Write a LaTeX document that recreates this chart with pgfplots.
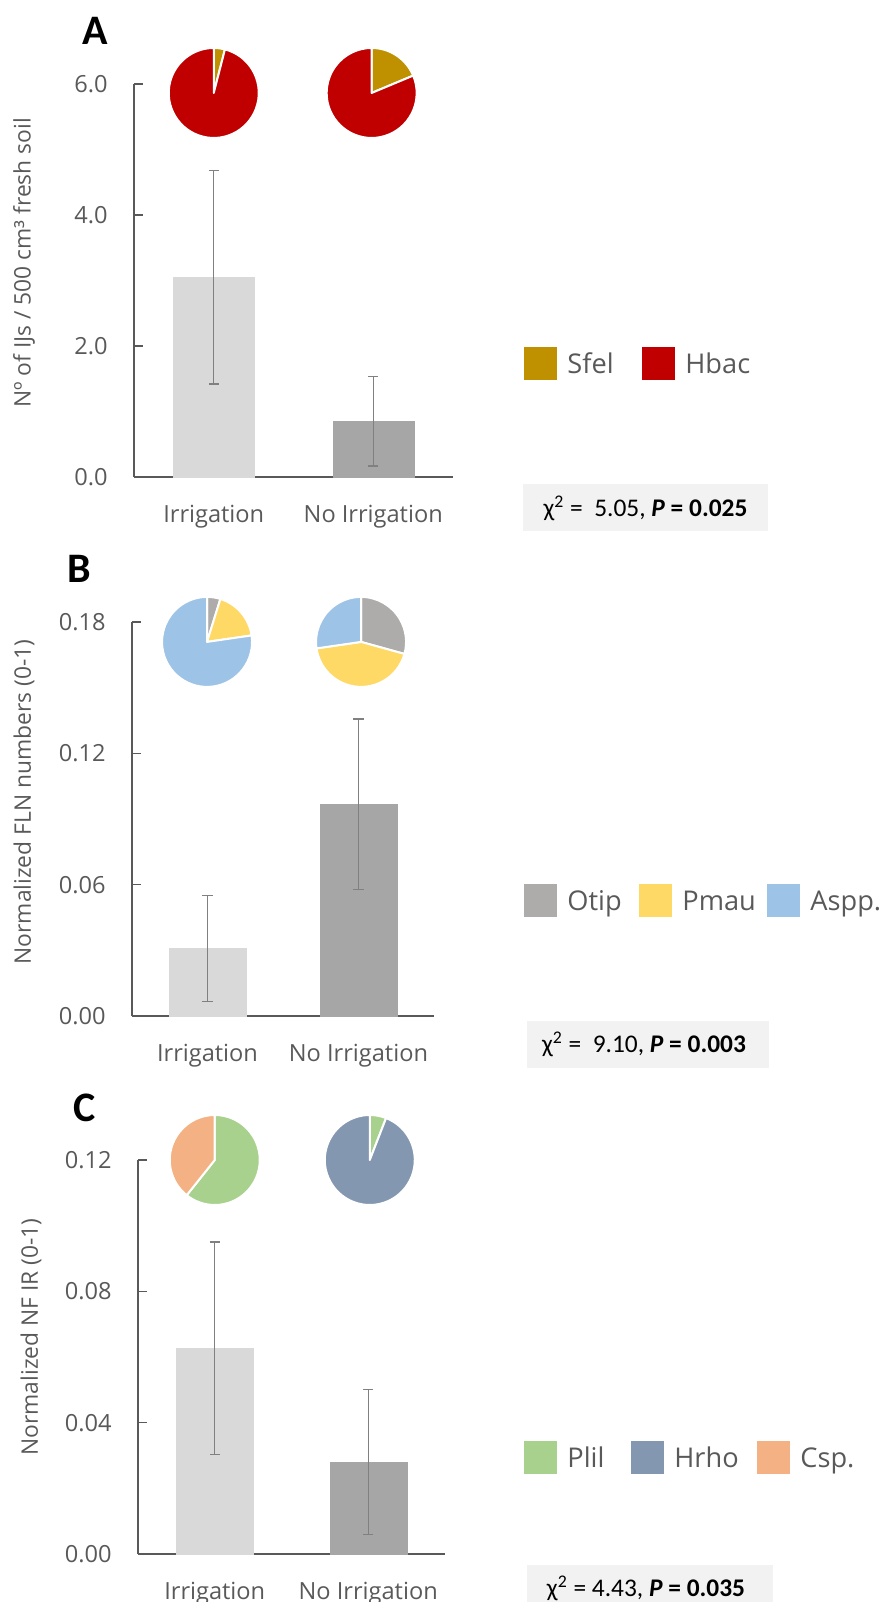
\documentclass[border=0pt]{standalone}
\usepackage{fontspec}
\setmainfont{Open Sans}
\newfontfamily\carlito{Carlito}
\usepackage{pgfplots}
\pgfplotsset{compat=1.18}

\definecolor{txtgray}{HTML}{595959}
\definecolor{axgray}{HTML}{595959}
\definecolor{errgray}{HTML}{808080}
\definecolor{barlight}{HTML}{D9D9D9}
\definecolor{bardark}{HTML}{A6A6A6}
\definecolor{sfel}{HTML}{BF9000}
\definecolor{hbac}{HTML}{C00000}
\definecolor{otip}{HTML}{AEABAB}
\definecolor{pmau}{HTML}{FFD966}
\definecolor{aspp}{HTML}{9DC3E6}
\definecolor{plil}{HTML}{A9D18E}
\definecolor{hrho}{HTML}{8497B0}
\definecolor{csp}{HTML}{F4B183}
\definecolor{boxgray}{HTML}{F2F2F2}

\pgfplotsset{
  panel/.style={
    scale only axis, clip=false,
    anchor=south west,
    xmin=0.5, xmax=2.5, ymin=0,
    axis x line*=bottom, axis y line*=left,
    axis line style={draw=axgray, line width=0.7pt, -},
    xtick={1,2}, xticklabels={Irrigation, No Irrigation},
    x tick style={draw=none},
    y tick style={draw=axgray, line width=0.7pt},
    tick align=inside, major tick length=4.5pt,
    tick label style={font=\fontsize{11.8}{14}\selectfont, text=txtgray},
    xticklabel style={anchor=north, inner sep=0pt, yshift=-14pt},
    yticklabel style={anchor=east, inner sep=0pt, xshift=-13pt},
    /pgf/number format/fixed, /pgf/number format/fixed zerofill,
    /pgf/number format/assume math mode=true,
  },
  mybar/.style n args={2}{ybar, bar width=#1, bar shift=0pt, fill=#2, draw=#2, line width=0.1pt,
    error bars/y dir=both, error bars/y explicit,
    error bars/error mark=|,
    error bars/error bar style={draw=errgray, line width=0.65pt, solid},
    error bars/error mark options={draw=errgray, line width=0.65pt, mark size=2.6pt, solid}},
}

% pie slice: x, y (axis units), start fraction, end fraction, colour
\newcommand{\slice}[5]{\fill[#5, draw=white, line width=1pt, line join=round]
  (axis cs:#1,#2) -- ++({90-360*#3}:22.5pt)
  arc[start angle={90-360*#3}, end angle={90-360*#4}, radius=22.5pt] -- cycle;}

\newcommand{\legsq}[4]{% left x (pt), bottom y (pt), colour, label
  \fill[#3] (#1,#2) rectangle ++(16.5pt,16.5pt);
  \node[anchor=base west, inner sep=0pt, text=txtgray, font=\fontsize{13.6}{16}\selectfont]
    at ({#1+21.5pt},{#2+3.4pt}) {#4};}

\begin{document}
\begin{tikzpicture}
\useasboundingbox (0,0) rectangle (439.5pt,801pt);

% ---------------- Panel A ----------------
\begin{axis}[panel, at={(67pt,562.5pt)}, width=159.5pt, height=196.5pt,
  ymax=6, ytick={0,2,4,6}, yticklabel style={/pgf/number format/precision=1}]
\addplot[mybar={40.5pt}{barlight}] coordinates {(1,3.05) +- (0,1.63)};
\addplot[mybar={40.5pt}{bardark}] coordinates {(2,0.85) +- (0,0.68)};
\slice{1}{5.863}{0}{0.04}{sfel}
\slice{1}{5.863}{0.04}{1}{hbac}
\slice{1.99}{5.863}{0}{0.187}{sfel}
\slice{1.99}{5.863}{0.187}{1}{hbac}
\end{axis}
\node[rotate=90, text=txtgray, font=\fontsize{11.4}{14}\selectfont] at (12pt,669.5pt) {Nº of IJs / 500 cm³ fresh soil};
\node[anchor=base, font=\carlito\bfseries\fontsize{21}{24}\selectfont] at (47.75pt,778.5pt) {A};
\legsq{262pt}{611pt}{sfel}{Sfel}
\legsq{321pt}{611pt}{hbac}{Hbac}
\fill[boxgray] (261.5pt,535.5pt) rectangle (384pt,559pt);
\node[anchor=base, inner sep=0pt, font=\carlito\fontsize{12.7}{15}\selectfont] at (322.75pt,542.65pt)
  {χ\textsuperscript{2} = ~5.05, \textbf{\textit{P} = 0.025}};

% ---------------- Panel B ----------------
\begin{axis}[panel, at={(66pt,293pt)}, width=151pt, height=197pt,
  ymax=0.18, ytick={0,0.06,0.12,0.18}, yticklabel style={/pgf/number format/precision=2}]
\addplot[mybar={38.5pt}{barlight}] coordinates {(1,0.0308) +- (0,0.0243)};
\addplot[mybar={38.5pt}{bardark}] coordinates {(2,0.0967) +- (0,0.0390)};
\slice{0.997}{0.1709}{0}{0.048}{otip}
\slice{0.997}{0.1709}{0.048}{0.227}{pmau}
\slice{0.997}{0.1709}{0.227}{1}{aspp}
\slice{2.017}{0.1709}{0}{0.293}{otip}
\slice{2.017}{0.1709}{0.293}{0.727}{pmau}
\slice{2.017}{0.1709}{0.727}{1}{aspp}
\end{axis}
\node[rotate=90, text=txtgray, font=\fontsize{11.4}{14}\selectfont] at (12pt,400pt) {Normalized FLN numbers (0-1)};
\node[anchor=base, font=\carlito\bfseries\fontsize{21}{24}\selectfont] at (39.5pt,509.5pt) {B};
\legsq{262pt}{342.5pt}{otip}{Otip}
\legsq{319.5pt}{342.5pt}{pmau}{Pmau}
\legsq{383.5pt}{342.5pt}{aspp}{Aspp.}
\fill[boxgray] (263.5pt,267pt) rectangle (384.5pt,290.5pt);
\node[anchor=base, inner sep=0pt, font=\carlito\fontsize{12.7}{15}\selectfont] at (322pt,274.65pt)
  {χ\textsuperscript{2} = ~9.10, \textbf{\textit{P} = 0.003}};

% ---------------- Panel C ----------------
\begin{axis}[panel, at={(69pt,24pt)}, width=153.5pt, height=197pt,
  ymax=0.12, ytick={0,0.04,0.08,0.12}, yticklabel style={/pgf/number format/precision=2}]
\addplot[mybar={38.5pt}{barlight}] coordinates {(1,0.0626) +- (0,0.0324)};
\addplot[mybar={38.5pt}{bardark}] coordinates {(2,0.0280) +- (0,0.0221)};
\slice{1.0}{0.12}{0}{0.607}{plil}
\slice{1.0}{0.12}{0.607}{1}{csp}
\slice{2.01}{0.12}{0}{0.059}{plil}
\slice{2.01}{0.12}{0.059}{1}{hrho}
\end{axis}
\node[rotate=90, text=txtgray, font=\fontsize{11.4}{14}\selectfont] at (15.5pt,132.5pt) {Normalized NF IR (0-1)};
\node[anchor=base, font=\carlito\bfseries\fontsize{21}{24}\selectfont] at (42.5pt,240pt) {C};
\legsq{262pt}{64pt}{plil}{Plil}
\legsq{315.5pt}{64pt}{hrho}{Hrho}
\legsq{378.5pt}{64pt}{csp}{Csp.}
\fill[boxgray] (263.5pt,-10pt) rectangle (386.5pt,18.5pt);
\node[anchor=base, inner sep=0pt, font=\carlito\fontsize{12.7}{15}\selectfont] at (323pt,2.65pt)
  {χ\textsuperscript{2} = 4.43, \textbf{\textit{P} = 0.035}};
\end{tikzpicture}
\end{document}
